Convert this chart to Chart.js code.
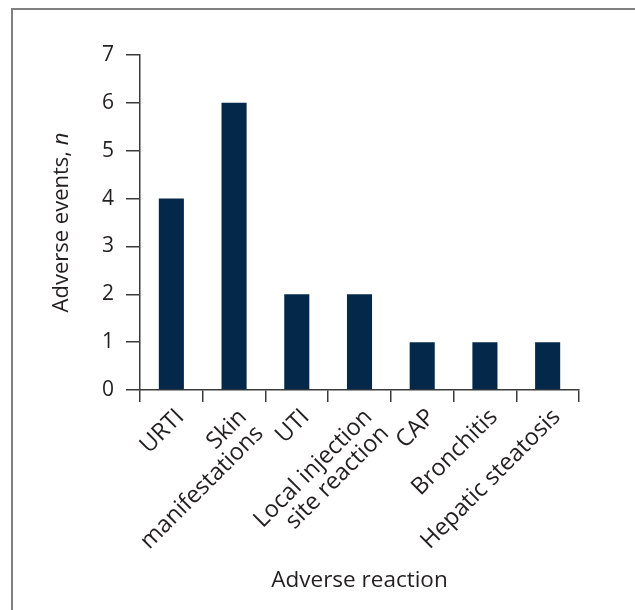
<!DOCTYPE html>
<html>
<head>
<meta charset="utf-8">
<script src="https://cdn.jsdelivr.net/npm/chart.js@4.4.1/dist/chart.umd.min.js"></script>
<style>
  html, body { margin: 0; padding: 0; background: #ffffff; }
  #wrap { position: relative; width: 635px; height: 610px; overflow: hidden; }
  #frame { position: absolute; left: 11px; top: 8px; width: 640px; height: 620px;
           border-top: 2px solid #808080; border-left: 2px solid #808080; pointer-events: none; }
  canvas { position: absolute; left: 0; top: 0; }
</style>
</head>
<body>
<div id="wrap">
  <canvas id="c" width="635" height="610"></canvas>
  <div id="frame"></div>
</div>
<script>
const categories = ["URTI", ["Skin", "manifestations"], "UTI", ["Local injection", "site reaction"], "CAP", "Bronchitis", "Hepatic steatosis"];
const adverseEvents = [4, 6, 2, 2, 1, 1, 1];
const yTicks = [0, 1, 2, 3, 4, 5, 6, 7];
const xTitle = "Adverse reaction";
const yTitleMain = "Adverse events, ";
const yTitleItalic = "n";

const FONT = "'Open Sans', 'Noto Sans', sans-serif";
const TEXT = "#231f20";
const AXIS = "#3a3a3a";

const yTitlePlugin = {
  id: 'yTitle',
  afterDraw(chart) {
    const ctx = chart.ctx;
    const area = chart.chartArea;
    ctx.save();
    ctx.fillStyle = TEXT;
    ctx.textBaseline = 'middle';
    const f1 = "22px " + FONT, f2 = "italic 22px " + FONT;
    ctx.font = f1; const w1 = ctx.measureText(yTitleMain).width;
    ctx.font = f2; const w2 = ctx.measureText(yTitleItalic).width;
    const cx = 62, cy = (area.top + area.bottom) / 2;
    ctx.translate(cx, cy);
    ctx.rotate(-Math.PI / 2);
    const start = -(w1 + w2) / 2;
    ctx.textAlign = 'left';
    ctx.font = f1; ctx.fillText(yTitleMain, start, 0);
    ctx.font = f2; ctx.fillText(yTitleItalic, start + w1, 0);
    ctx.restore();
  }
};

new Chart(document.getElementById('c'), {
  type: 'bar',
  data: {
    labels: categories,
    datasets: [{
      data: adverseEvents,
      backgroundColor: '#04284a',
      borderWidth: 0,
      barPercentage: 0.4,
      categoryPercentage: 1.0
    }]
  },
  options: {
    responsive: false,
    animation: false,
    devicePixelRatio: 1,
    layout: { padding: { left: 12, right: 56, top: 55, bottom: 16 } },
    plugins: { legend: { display: false }, tooltip: { enabled: false } },
    scales: {
      x: {
        offset: true,
        grid: { display: true, offset: true, drawOnChartArea: false, drawTicks: true, tickLength: 12, color: AXIS, lineWidth: 1.5 },
        border: { display: true, color: AXIS, width: 1.5 },
        ticks: { color: TEXT, font: { family: FONT, size: 23.5, lineHeight: 1.0 }, maxRotation: 45, minRotation: 45, padding: 3, labelOffset: 9, autoSkip: false },
        title: { display: true, text: xTitle, color: TEXT, font: { family: FONT, size: 22.5 }, padding: { top: 10, bottom: 0 } },
        afterFit(scale) { scale.height = 204; }
      },
      y: {
        min: 0, max: 7,
        afterBuildTicks(scale) { scale.ticks = yTicks.map(v => ({ value: v })); },
        grid: { display: true, drawOnChartArea: false, drawTicks: true, tickLength: 14, color: AXIS, lineWidth: 1.5 },
        border: { display: true, color: AXIS, width: 1.5 },
        ticks: { color: TEXT, font: { family: FONT, size: 21 }, padding: 12 },
        afterFit(scale) { scale.width = 128; }
      }
    }
  },
  plugins: [yTitlePlugin]
});
</script>
</body>
</html>
